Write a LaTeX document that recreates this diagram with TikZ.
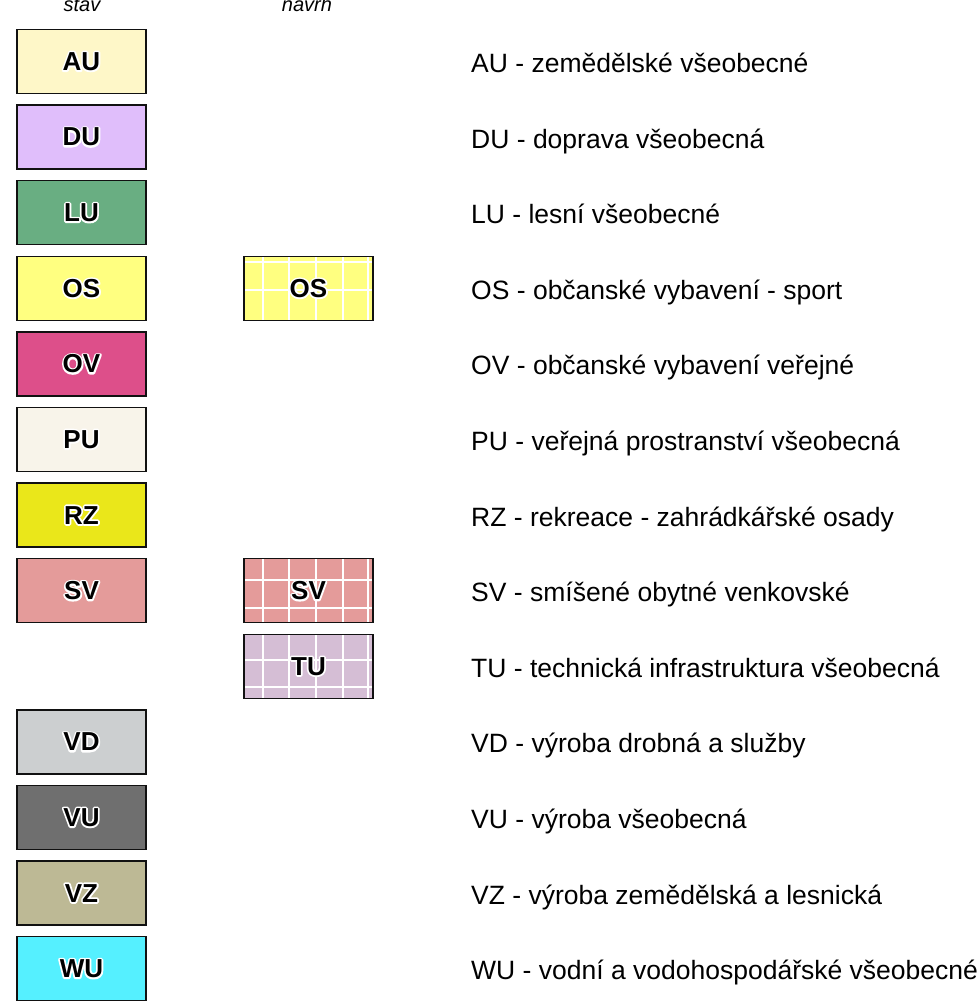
\documentclass[tikz,border=0pt]{standalone}
\usepackage{fontspec}
\setmainfont{Liberation Sans}
\definecolor{cAU}{HTML}{FEF7C8}
\definecolor{cDU}{HTML}{E0BEFB}
\definecolor{cLU}{HTML}{69AE82}
\definecolor{cOS}{HTML}{FFFF80}
\definecolor{cOV}{HTML}{DD4F8A}
\definecolor{cPU}{HTML}{F8F4EA}
\definecolor{cRZ}{HTML}{EAE71A}
\definecolor{cSV}{HTML}{E49B9A}
\definecolor{cTU}{HTML}{D5BED5}
\definecolor{cVD}{HTML}{CCCFD0}
\definecolor{cVU}{HTML}{6F6F6F}
\definecolor{cVZ}{HTML}{BDB995}
\definecolor{cWU}{HTML}{55F0FF}
\definecolor{edge}{HTML}{111111}
\newcommand{\boxfnt}{\fontsize{26}{30}\selectfont\bfseries}
\newcommand{\labfnt}{\fontsize{26.5}{30}\selectfont}
\newcommand{\headfnt}{\fontsize{20}{24}\selectfont\itshape}
\newcommand{\halotext}[1]{\rlap{\special{pdf:literal direct 1 Tr 3.4 w 1 1 1 RG 1 j}#1\special{pdf:literal direct 0 Tr}}#1}
\tikzset{
  lbox/.style={draw=edge, line width=1.4pt, minimum width=129pt, minimum height=64pt, inner sep=0pt, font=\boxfnt},
  ltext/.style={anchor=base west, font=\labfnt, inner sep=0pt},
  htext/.style={anchor=base, font=\headfnt, inner sep=0pt},
  hatchline/.style={draw=white, line width=2pt},
}
\begin{document}
\begin{tikzpicture}[x=1pt,y=-1pt]
\useasboundingbox (0,0) rectangle (979,1006);
\clip (0,0) rectangle (979,1006);
% headers
\node[htext] (hstav) at (82,12) {stav};
\node[htext] (hnavrh) at (307,12) {návrh};
% legend texts
\foreach \code/\i/\desc in {
  AU/0/zemědělské všeobecné,
  DU/1/doprava všeobecná,
  LU/2/lesní všeobecné,
  OS/3/občanské vybavení - sport,
  OV/4/občanské vybavení veřejné,
  PU/5/veřejná prostranství všeobecná,
  RZ/6/rekreace - zahrádkářské osady,
  SV/7/smíšené obytné venkovské,
  TU/8/technická infrastruktura všeobecná,
  VD/9/výroba drobná a služby,
  VU/10/výroba všeobecná,
  VZ/11/výroba zemědělská a lesnická,
  WU/12/vodní a vodohospodářské všeobecné}{
  \pgfmathsetmacro{\cy}{61.5+75.6*\i}
  \node[ltext] (t\code) at (471,\cy+11) {\code\ - \desc};
}
% column 1 (stav)
\foreach \code/\i in {AU/0,DU/1,LU/2,OS/3,OV/4,PU/5,RZ/6,SV/7,VD/9,VU/10,VZ/11,WU/12}{
  \pgfmathsetmacro{\cy}{61.5+75.6*\i}
  \node[lbox, fill=c\code] (s\code) at (81.5,\cy) {\halotext{\code}};
}
% column 2 (navrh) with white grid
\foreach \code/\i/\ha/\hb in {OS/3/5.7/33.3, SV/7/21.4/49, TU/8/25.7/52.4}{
  \pgfmathsetmacro{\cy}{61.5+75.6*\i}
  \pgfmathsetmacro{\ty}{\cy-32}
  \fill[c\code] (244,\ty) rectangle (373,\ty+64);
  \begin{scope}
    \clip (244,\ty) rectangle (373,\ty+64);
    \foreach \gx in {19.3,45.3,72,99.3,124.3}{
      \draw[hatchline] (244+\gx,\ty) -- (244+\gx,\ty+64);
    }
    \draw[hatchline] (244,\ty+\ha) -- (373,\ty+\ha);
    \draw[hatchline] (244,\ty+\hb) -- (373,\ty+\hb);
  \end{scope}
  \node[lbox] (n\code) at (308.5,\cy) {\halotext{\code}};
}
\end{tikzpicture}
\end{document}
